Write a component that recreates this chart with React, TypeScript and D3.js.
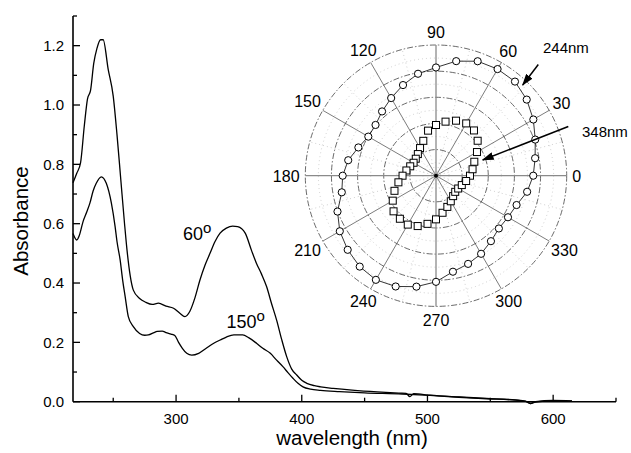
import React from 'react';
import * as d3 from 'd3';

// absorbance spectra
const wl60 = [218, 221, 224, 227, 229.5, 232, 234.5, 237, 240, 242, 246, 250, 253, 256, 259, 261, 263.5, 266, 271, 276, 281, 286, 292, 298, 303, 307, 311, 315, 319, 323, 327, 331, 335, 340, 345, 349, 355, 360, 364, 368, 372, 376, 380, 384, 388, 392, 396, 400, 404, 410, 415, 425, 440, 460, 478, 483, 486, 489, 502, 525, 547, 570, 578, 582, 586, 600, 615];
const abs60 = [0.738, 0.77, 0.805, 0.93, 1.02, 1.05, 1.14, 1.19, 1.22, 1.22, 1.12, 1.03, 0.9, 0.75, 0.6, 0.51, 0.425, 0.376, 0.348, 0.335, 0.328, 0.332, 0.322, 0.315, 0.298, 0.287, 0.305, 0.35, 0.41, 0.46, 0.5, 0.54, 0.568, 0.585, 0.592, 0.59, 0.568, 0.51, 0.466, 0.43, 0.388, 0.33, 0.275, 0.21, 0.152, 0.11, 0.09, 0.072, 0.062, 0.054, 0.05, 0.045, 0.039, 0.033, 0.029, 0.028, 0.017, 0.027, 0.022, 0.016, 0.011, 0.006, 0.002, -0.006, 0.0, 0.004, 0.003];

const wl150 = [218, 221, 223, 226, 229, 231.5, 234, 236.5, 240.5, 244.5, 248.5, 251.5, 253, 255.5, 257.5, 259.5, 262, 266, 271, 275, 278, 282, 285, 289, 292, 296, 299, 302, 305, 308.5, 312.5, 318, 324, 330, 335, 340, 346, 353, 358, 364, 369, 375, 380, 385, 389, 393, 397, 401, 407, 415, 430, 450, 480, 502, 525, 547, 570, 578, 582, 586, 600, 615];
const abs150 = [0.567, 0.545, 0.56, 0.607, 0.64, 0.67, 0.71, 0.736, 0.758, 0.736, 0.67, 0.59, 0.54, 0.478, 0.41, 0.354, 0.287, 0.253, 0.23, 0.224, 0.225, 0.232, 0.237, 0.238, 0.233, 0.228, 0.223, 0.2, 0.18, 0.163, 0.157, 0.163, 0.18, 0.197, 0.208, 0.218, 0.225, 0.225, 0.215, 0.197, 0.18, 0.163, 0.14, 0.118, 0.098, 0.079, 0.062, 0.05, 0.042, 0.038, 0.034, 0.03, 0.026, 0.021, 0.015, 0.01, 0.005, 0.001, -0.006, -0.001, 0.003, 0.002];

const xTicks = [300, 400, 500, 600];
const xMinor = [250, 350, 450, 550, 650];
const yTicks = [0, 0.2, 0.4, 0.6, 0.8, 1.0, 1.2];
const yMinor = [0.1, 0.3, 0.5, 0.7, 0.9, 1.1, 1.3];

// polar inset: angle (deg) vs. relative intensity
const polarAngles = [0, 10, 20, 30, 40, 50, 60, 70, 80, 90, 100, 110, 120, 130, 140, 150, 160, 170, 180, 190, 200, 210, 220, 230, 240, 250, 260, 270, 280, 290, 300, 310, 320, 330, 340, 350];
const r244 = [3.72, 3.85, 4.04, 4.3, 4.53, 4.7, 4.71, 4.66, 4.45, 4.14, 3.96, 3.69, 3.43, 3.21, 3.02, 2.99, 3.16, 3.41, 3.57, 3.66, 4.01, 4.25, 4.41, 4.54, 4.6, 4.51, 4.31, 4.06, 3.73, 3.59, 3.45, 3.27, 3.14, 3.18, 3.28, 3.54];
const r348 = [1.3, 1.42, 1.56, 1.81, 2.08, 2.26, 2.31, 2.24, 2.1, 1.94, 1.75, 1.42, 1.22, 1.08, 1.01, 0.99, 1.05, 1.15, 1.28, 1.46, 1.69, 1.91, 2.12, 2.15, 2.16, 2.05, 1.87, 1.67, 1.44, 1.27, 1.13, 1.02, 0.96, 0.98, 1.05, 1.17];
const ringValues = [1, 2, 3, 4, 5];
const minorRings = [0.5, 1.5, 2.5, 3.5, 4.5];
const spokeAngles = [0, 30, 60, 90, 120, 150, 180, 210, 240, 270, 300, 330];
const minorSpokes = [15, 45, 75, 105, 135, 165, 195, 225, 255, 285, 315, 345];

const FONT = '"Liberation Sans", Arial, Helvetica, sans-serif';

export default function App() {
  const width = 631;
  const height = 453;

  const x = d3.scaleLinear().domain([218, 650]).range([73, 616]);
  const y = d3.scaleLinear().domain([0, 1.3]).range([401.7, 16]);

  const line = d3.line<[number, number]>()
    .x(d => x(d[0]))
    .y(d => y(d[1]))
    .curve(d3.curveMonotoneX);

  const path60 = line(wl60.map((w, i) => [w, abs60[i]]));
  const path150 = line(wl150.map((w, i) => [w, abs150[i]]));

  // polar inset
  const cx = 436;
  const cy = 175.7;
  const r = d3.scaleLinear().domain([0, 5]).range([0, 130.7]);
  const R = r(5);
  const pt = (deg: number, v: number): [number, number] => {
    const a = (deg * Math.PI) / 180;
    return [cx + r(v) * Math.cos(a), cy - r(v) * Math.sin(a)];
  };
  const pts244 = polarAngles.map((a, i) => pt(a, r244[i]));
  const pts348 = polarAngles.map((a, i) => pt(a, r348[i]));
  const ring244 = d3.line().curve(d3.curveLinearClosed)(pts244);

  const fmt = d3.format('.1f');

  return (
    <svg width={width} height={height} style={{ position: 'absolute', left: 0, top: 0, background: '#fff' }} fontFamily={FONT}>
      <defs>
        <marker id="arrow" viewBox="0 0 12 8" refX="11" refY="4" markerWidth="12" markerHeight="8" markerUnits="userSpaceOnUse" orient="auto">
          <path d="M0,0 L12,4 L0,8 Z" fill="#000" />
        </marker>
      </defs>

      {/* axes */}
      <line x1={x(218)} x2={x(650)} y1={y(0)} y2={y(0)} stroke="#000" strokeWidth={1.6} />
      <line x1={x(218)} x2={x(218)} y1={y(0)} y2={y(1.3)} stroke="#000" strokeWidth={1.6} />
      {xTicks.map(t => (
        <g key={'xt' + t}>
          <line x1={x(t)} x2={x(t)} y1={y(0)} y2={y(0) - 7} stroke="#000" strokeWidth={1.3} />
          <text x={x(t)} y={424} textAnchor="middle" fontSize={15}>{t}</text>
        </g>
      ))}
      {xMinor.map(t => (
        <line key={'xm' + t} x1={x(t)} x2={x(t)} y1={y(0)} y2={y(0) - 4} stroke="#000" strokeWidth={1.3} />
      ))}
      {yTicks.map(t => (
        <g key={'yt' + t}>
          <line x1={x(218)} x2={x(218) + 7} y1={y(t)} y2={y(t)} stroke="#000" strokeWidth={1.3} />
          <text x={64} y={y(t) + 5.3} textAnchor="end" fontSize={15}>{fmt(t)}</text>
        </g>
      ))}
      {yMinor.map(t => (
        <line key={'ym' + t} x1={x(218)} x2={x(218) + 4} y1={y(t)} y2={y(t)} stroke="#000" strokeWidth={1.3} />
      ))}
      <text x={352} y={445} textAnchor="middle" fontSize={20.5}>wavelength (nm)</text>
      <text transform="translate(28,221) rotate(-90)" textAnchor="middle" fontSize={20.5}>Absorbance</text>

      {/* spectra */}
      <path d={path60 || ''} fill="none" stroke="#000" strokeWidth={1.3} />
      <path d={path150 || ''} fill="none" stroke="#000" strokeWidth={1.3} />
      <text x={183} y={240} fontSize={18}>60<tspan fontSize={15} dy={-7}>o</tspan></text>
      <text x={226.5} y={328.3} fontSize={18}>150<tspan fontSize={15} dy={-7}>o</tspan></text>

      {/* polar grid */}
      {minorRings.map(v => (
        <circle key={'mr' + v} cx={cx} cy={cy} r={r(v)} fill="none" stroke="#bbb" strokeWidth={0.7} strokeDasharray="1,3" />
      ))}
      {minorSpokes.map(a => {
        const [px, py] = pt(a, 5);
        return <line key={'ms' + a} x1={cx} y1={cy} x2={px} y2={py} stroke="#bbb" strokeWidth={0.7} strokeDasharray="1,3" />;
      })}
      {ringValues.map(v => (
        <circle key={'rg' + v} cx={cx} cy={cy} r={r(v)} fill="none" stroke="#444" strokeWidth={0.8} strokeDasharray="6,2,1.5,2" />
      ))}
      {spokeAngles.filter(a => a % 90 !== 0).map(a => {
        const [px, py] = pt(a, 5);
        return <line key={'sp' + a} x1={cx} y1={cy} x2={px} y2={py} stroke="#444" strokeWidth={0.7} />;
      })}
      <line x1={cx - R} x2={cx + R} y1={cy} y2={cy} stroke="#8a8a8a" strokeWidth={1.3} />
      <line x1={cx} x2={cx} y1={cy - R} y2={cy + R} stroke="#8a8a8a" strokeWidth={1.3} />
      <circle cx={cx} cy={cy} r={2} fill="#000" />
      {spokeAngles.map(a => {
        const label = String(a);
        const rad = (a * Math.PI) / 180;
        const hw = 4.6 * label.length;
        const rl = 136 + hw * Math.cos(rad) ** 2 + 8 * Math.sin(rad) ** 2;
        return (
          <text key={'pl' + a} x={cx + rl * Math.cos(rad)} y={cy - rl * Math.sin(rad) + 5.8} textAnchor="middle" fontSize={16}>{label}</text>
        );
      })}

      {/* polar data */}
      <path d={ring244 || ''} fill="none" stroke="#000" strokeWidth={0.8} />
      {pts244.map(([px, py], i) => (
        <circle key={'c' + i} cx={px} cy={py} r={3.6} fill="#fff" stroke="#000" strokeWidth={1} />
      ))}
      {pts348.map(([px, py], i) => (
        <rect key={'s' + i} x={px - 3.5} y={py - 3.5} width={7} height={7} fill="#fff" stroke="#000" strokeWidth={1} />
      ))}

      {/* annotations */}
      <text x={543} y={53} fontSize={15}>244nm</text>
      <line x1={538.3} y1={64.5} x2={522.7} y2={85} stroke="#000" strokeWidth={1.5} markerEnd="url(#arrow)" />
      <text x={582} y={137} fontSize={15}>348nm</text>
      <line x1={568.3} y1={126.5} x2={482.7} y2={160} stroke="#000" strokeWidth={1.5} markerEnd="url(#arrow)" />
    </svg>
  );
}
